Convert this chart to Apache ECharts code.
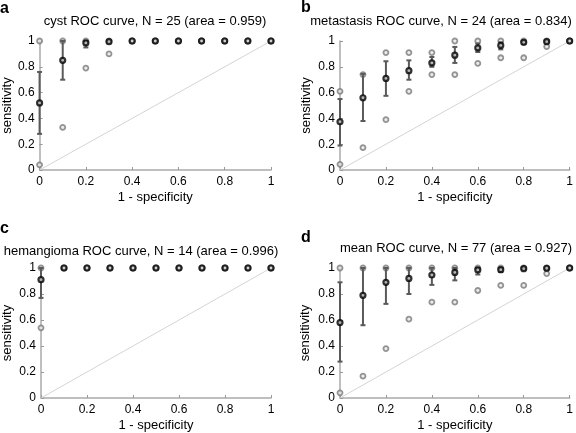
<!DOCTYPE html>
<html><head><meta charset="utf-8">
<script src="https://cdn.jsdelivr.net/npm/echarts@6/dist/echarts.min.js"></script>
<style>html,body{margin:0;padding:0;background:#fff}#c{width:576px;height:433px}</style>
</head><body><div id="c"></div>
<script>
// x positions (1 - specificity)
const xs = [0,0.1,0.2,0.3,0.4,0.5,0.6,0.7,0.8,0.9,1];
const xTicks = [0,0.2,0.4,0.6,0.8,1];

// panel a: cyst
const cystMean = [0.52,0.85,0.985,0.995,1,1,1,1,1,1,1];
const cystLow  = [0.28,0.70,0.95,0.99,1,1,1,1,1,1,1];
const cystHigh = [0.76,1.0,1.0,1.0,1,1,1,1,1,1,1];
const cystMin  = [0.04,0.33,0.79,0.90,1,1,1,1,1,1,1];
const cystMax  = [1,1,1,1,1,1,1,1,1,1,1];

// panel b: metastasis
const metaMean = [0.374,0.56,0.71,0.77,0.83,0.89,0.946,0.966,0.99,0.995,1];
const metaLow  = [0.19,0.38,0.575,0.70,0.80,0.83,0.915,0.935,0.975,0.987,1];
const metaHigh = [0.55,0.745,0.843,0.85,0.876,0.954,0.98,0.99,1.0,1.0,1];
const metaMin  = [0.044,0.173,0.39,0.61,0.74,0.74,0.826,0.87,0.87,0.957,1];
const metaMax  = [0.61,0.74,0.91,0.91,0.91,1,1,1,1,1,1];

// panel c: hemangioma
const hemMean = [0.91,1,1,1,1,1,1,1,1,1,1];
const hemLow  = [0.77,1,1,1,1,1,1,1,1,1,1];
const hemHigh = [1.0,1,1,1,1,1,1,1,1,1,1];
const hemMin  = [0.54,1,1,1,1,1,1,1,1,1,1];
const hemMax  = [1,1,1,1,1,1,1,1,1,1,1];

// panel d: mean
const allMean = [0.58,0.79,0.89,0.92,0.946,0.966,0.985,0.987,0.995,0.998,1];
const allLow  = [0.28,0.56,0.724,0.80,0.87,0.905,0.95,0.97,0.985,0.99,1];
const allHigh = [0.89,1.0,1.0,1.0,1.0,1.0,1.0,1.0,1.0,1.0,1];
const allMin  = [0.04,0.168,0.38,0.606,0.737,0.737,0.827,0.866,0.866,0.957,1];
const allMax  = [1,1,1,1,1,1,1,1,1,1,1];

const titles = [
  'cyst ROC curve, N = 25 (area = 0.959)',
  'metastasis ROC curve, N = 24 (area = 0.834)',
  'hemangioma ROC curve, N = 14 (area = 0.996)',
  'mean ROC curve, N = 77 (area = 0.927)'
];
const letters = ['a','b','c','d'];
const panels = [
  {mean:cystMean, low:cystLow, high:cystHigh, min:cystMin, max:cystMax},
  {mean:metaMean, low:metaLow, high:metaHigh, min:metaMin, max:metaMax},
  {mean:hemMean, low:hemLow, high:hemHigh, min:hemMin, max:hemMax},
  {mean:allMean, low:allLow, high:allHigh, min:allMin, max:allMax}
];

const FONT = 'Liberation Sans, Arial, sans-serif';
const grids = [
  {left:38, top:41, width:233, height:129},
  {left:340, top:41, width:232, height:129},
  {left:38, top:268, width:233, height:130},
  {left:340, top:268, width:232, height:130}
];
const titlePos = [[155,21],[441,21],[141,251],[456,248]];
const letterPos = [[0,1],[301,0],[0,221],[301,230]];
const yNameGap = [25,27,27,28];

const xAxis = [], yAxis = [], series = [], graphic = [];
grids.forEach((g, i) => {
  xAxis.push({
    gridIndex:i, type:'value', min:0, max:1, interval:0.2,
    name:'1 - specificity', nameLocation:'middle', nameGap:21,
    nameTextStyle:{fontFamily:FONT, fontSize:13, color:'#000'},
    axisLine:{lineStyle:{color:'#aaa', width:1.5}},
    axisTick:{inside:true, length:3, lineStyle:{color:'#999'}},
    axisLabel:{fontFamily:FONT, fontSize:12, color:'#000', margin:6,
      formatter: v => String(Math.round(v*10)/10)},
    splitLine:{show:false}
  });
  yAxis.push({
    gridIndex:i, type:'value', min:0, max:1, interval:0.2,
    name:'sensitivity', nameLocation:'middle', nameGap:yNameGap[i],
    nameTextStyle:{fontFamily:FONT, fontSize:13, color:'#000'},
    axisLine:{show:true, lineStyle:{color:'#aaa', width:1.5}},
    axisTick:{show:true, inside:true, length:3, lineStyle:{color:'#999'}},
    axisLabel:{fontFamily:FONT, fontSize:12, color:'#000', margin:5,
      formatter: v => String(Math.round(v*10)/10)},
    splitLine:{show:false}
  });
  const p = panels[i];
  // diagonal chance line
  series.push({
    type:'line', xAxisIndex:i, yAxisIndex:i, data:[[0,0],[1,1]],
    symbol:'none', lineStyle:{color:'#d4d4d4', width:1}, silent:true, z:1
  });
  // min / max gray points
  series.push({
    type:'scatter', xAxisIndex:i, yAxisIndex:i,
    data: xs.map((x,k)=>[x,p.min[k]]).concat(xs.map((x,k)=>[x,p.max[k]])),
    symbol:'circle', symbolSize:5,
    itemStyle:{color:'#e8e8e8', borderColor:'#7a7a7a', borderWidth:1.8},
    z:2, clip:false
  });
  // error bars
  series.push({
    type:'custom', xAxisIndex:i, yAxisIndex:i,
    data: xs.map((x,k)=>[x,p.low[k],p.high[k]]),
    renderItem:(params, api) => {
      const lo = api.value(1), hi = api.value(2);
      if (hi - lo < 0.003) return null;
      const a = api.coord([api.value(0), lo]);
      const b = api.coord([api.value(0), hi]);
      const w = 2.5;
      const st = {stroke:'#5a5a5a', lineWidth:2};
      return {type:'group', children:[
        {type:'line', shape:{x1:a[0],y1:a[1],x2:b[0],y2:b[1]}, style:st},
        {type:'line', shape:{x1:a[0]-w,y1:a[1],x2:a[0]+w,y2:a[1]}, style:st},
        {type:'line', shape:{x1:b[0]-w,y1:b[1],x2:b[0]+w,y2:b[1]}, style:st}
      ]};
    },
    z:3, clip:false
  });
  // mean black points
  series.push({
    type:'scatter', xAxisIndex:i, yAxisIndex:i,
    data: xs.map((x,k)=>[x,p.mean[k]]),
    symbol:'circle', symbolSize:5,
    itemStyle:{color:'#ccc', borderColor:'#000', borderWidth:2.2},
    z:4, clip:false
  });
  graphic.push({
    type:'text', x:titlePos[i][0], y:titlePos[i][1],
    style:{text:titles[i], fontFamily:FONT, fontSize:13, fill:'#000',
      textAlign:'center', textVerticalAlign:'middle'}
  });
  graphic.push({
    type:'text', x:letterPos[i][0], y:letterPos[i][1],
    style:{text:letters[i], fontFamily:FONT, fontSize:16, fontWeight:'bold', fill:'#000',
      textAlign:'left', textVerticalAlign:'top'}
  });
});

const chart = echarts.init(document.getElementById('c'), null, {renderer:'canvas'});
chart.setOption({
  animation:false, backgroundColor:'#fff',
  grid:grids, xAxis, yAxis, series, graphic
});
</script>
</body></html>
